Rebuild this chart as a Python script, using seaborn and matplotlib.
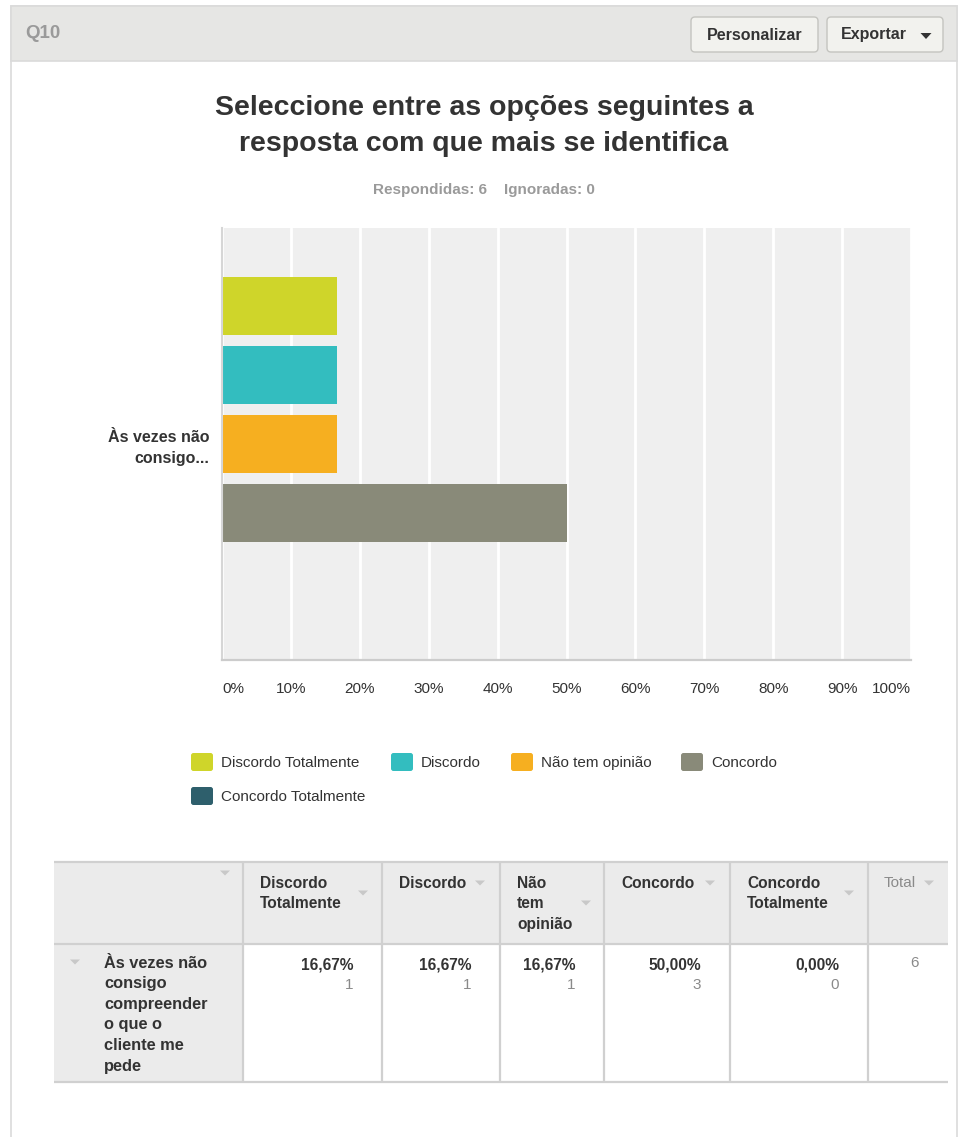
import matplotlib
matplotlib.use("Agg")
import matplotlib.pyplot as plt
from matplotlib.patches import Rectangle, FancyBboxPatch, Polygon
import seaborn as sns
import pandas as pd

# ---- data -------------------------------------------------------------
question_code = "Q10"
title_lines = ["Seleccione entre as opções seguintes a",
               "resposta com que mais se identifica"]
answered = 6
skipped = 0
question_short = "Às vezes não\nconsigo..."
question_lines = ["Às vezes não", "consigo", "compreender",
                  "o que o", "cliente me", "pede"]
responses = ["Discordo Totalmente", "Discordo", "Não tem opinião",
             "Concordo", "Concordo Totalmente"]
header_lines = [["Discordo", "Totalmente"], ["Discordo"],
                ["Não", "tem", "opinião"], ["Concordo"],
                ["Concordo", "Totalmente"]]
counts = [1, 1, 1, 3, 0]
colors = ["#cfd52a", "#33bdbf", "#f6af20", "#898a79", "#2e5f6c"]
x_ticks = [0, 10, 20, 30, 40, 50, 60, 70, 80, 90, 100]

total = sum(counts)
pcts = [c / total * 100 for c in counts]

W, H = 961, 1137
DARK = "#333333"
GRAY = "#8a8a8a"
LINE = "#d0d0d0"
FONT = ["Liberation Sans", "DejaVu Sans"]

sns.set_theme(style="white")
plt.rcParams["font.family"] = FONT

fig = plt.figure(figsize=(W / 100, H / 100), dpi=100)

# ---- page layer in pixel coordinates ---------------------------------
bg = fig.add_axes([0, 0, 1, 1], zorder=0)
bg.set_xlim(0, W)
bg.set_ylim(H, 0)
bg.axis("off")


def sort_arrow(cx, cy, w=10, h=5, color="#c8c8c8"):
    """Small down-pointing triangle used by sortable column headers."""
    bg.add_patch(Polygon([(cx - w / 2, cy - h / 2), (cx + w / 2, cy - h / 2),
                          (cx, cy + h / 2)], closed=True,
                         facecolor=color, edgecolor="none", zorder=3))


# panel and header bar
bg.add_patch(Rectangle((10.5, 6), 946, H, facecolor="white",
                       edgecolor="#dadada", lw=1.2))
bg.add_patch(Rectangle((10.5, 6), 946, 55, facecolor="#e6e6e4",
                       edgecolor="#dadada", lw=1.2))
bg.text(25, 33, question_code, fontsize=13.5, weight="bold", color="#9a9a9a",
        ha="left", va="center")

# buttons
for x0, x1 in [(691, 818), (827, 943)]:
    bg.add_patch(FancyBboxPatch((x0, 17), x1 - x0, 35,
                                boxstyle="round,pad=0,rounding_size=4",
                                facecolor="#f2f2ee", edgecolor="#c4c4c0",
                                lw=1.0))
bg.text(754.5, 35, "Personalizar", fontsize=11.5, weight="bold",
        color=DARK, ha="center", va="center")
bg.text(841, 35, "Exportar", fontsize=11.5, weight="bold",
        color=DARK, ha="left", va="center")
sort_arrow(926, 36, w=11, h=6, color=DARK)

# title and summary line
bg.text(484, 108, title_lines[0], fontsize=20.5, weight="bold",
        color=DARK, ha="center", va="center")
bg.text(484, 144, title_lines[1], fontsize=20.5, weight="bold",
        color=DARK, ha="center", va="center")
bg.text(484, 190, f"Respondidas: {answered}    Ignoradas: {skipped}",
        fontsize=11, weight="bold", color="#9a9a9a",
        ha="center", va="center")

# ---- bar chart --------------------------------------------------------
ax = fig.add_axes([222 / W, 1 - 660 / H, 689 / W, 432 / H], zorder=1)
df = pd.DataFrame({
    "pergunta": [question_short] * len(responses),
    "resposta": responses,
    "pct": pcts,
})
sns.barplot(data=df, x="pct", y="pergunta", hue="resposta",
            hue_order=responses, palette=colors, orient="h",
            width=0.8, gap=0.16, saturation=1, linewidth=0,
            legend=False, ax=ax)
ax.set_facecolor("#efefef")
ax.set_xlim(0, 100)
ax.set_ylim(0.5, -0.5)
ax.set_xlabel("")
ax.set_ylabel("")
ax.set_xticks(x_ticks)
ax.set_xticklabels([f"{t}%" for t in x_ticks], fontsize=11, color=DARK)
ticklabels = ax.get_xticklabels()
ticklabels[0].set_horizontalalignment("left")
ticklabels[-1].set_horizontalalignment("right")
ax.tick_params(axis="x", length=0, pad=16)
ax.tick_params(axis="y", length=0, pad=9)
for lab in ax.get_yticklabels():
    lab.set_fontsize(11.5)
    lab.set_fontweight("bold")
    lab.set_color(DARK)
    lab.set_multialignment("right")
    lab.set_linespacing(1.45)
ax.grid(axis="x", color="white", lw=2)
ax.grid(axis="y", visible=False)
ax.set_axisbelow(True)
for side in ("top", "right"):
    ax.spines[side].set_visible(False)
ax.spines["left"].set_color("#d6d6d6")
ax.spines["left"].set_linewidth(1.5)
ax.spines["bottom"].set_color("#cccccc")
ax.spines["bottom"].set_linewidth(1.6)

# ---- legend -----------------------------------------------------------
legend_pos = [(191, 762), (391, 762), (511, 762), (681, 762), (191, 796)]
for (lx, ly), name, col in zip(legend_pos, responses, colors):
    bg.add_patch(FancyBboxPatch((lx, ly - 9), 22, 18,
                                boxstyle="round,pad=0,rounding_size=2.5",
                                facecolor=col, edgecolor="none"))
    bg.text(lx + 30, ly + 1, name, fontsize=11, color=DARK,
            ha="left", va="center")

# ---- table ------------------------------------------------------------
col_x = [54, 243, 382, 500, 604, 730, 868, 948]
top, mid, bottom = 862, 944, 1082
bg.add_patch(Rectangle((col_x[0], top), col_x[-1] - col_x[0], mid - top,
                       facecolor="#ebebeb", edgecolor="none"))
bg.add_patch(Rectangle((col_x[0], mid), col_x[1] - col_x[0], bottom - mid,
                       facecolor="#ebebeb", edgecolor="none"))
for y in (top, mid, bottom):
    bg.plot([col_x[0], col_x[-1]], [y, y], color=LINE, lw=1.6,
            solid_capstyle="butt")
for x in col_x[1:-1]:
    bg.plot([x, x], [top, bottom], color=LINE, lw=1.6,
            solid_capstyle="butt")

# header row
sort_arrow(225, 873)
header_arrows = [(363, 893), (480, 883), (586, 903), (710, 883), (849, 893)]
for i, lines in enumerate(header_lines):
    x0 = col_x[i + 1] + 17
    for j, line in enumerate(lines):
        bg.text(x0, 883 + 20.5 * j, line, fontsize=11.2, weight="bold",
                color=DARK, ha="left", va="center")
    sort_arrow(*header_arrows[i])
bg.text(col_x[6] + 16, 883, "Total", fontsize=11, color=GRAY,
        ha="left", va="center")
sort_arrow(929, 883)

# body row
sort_arrow(75, 962)
for j, line in enumerate(question_lines):
    bg.text(104, 963 + 20.6 * j, line, fontsize=11.8, weight="bold",
            color=DARK, ha="left", va="center")
for i, (c, p) in enumerate(zip(counts, pcts)):
    xr = col_x[i + 2] - 29
    bg.text(xr, 965, f"{p:.2f}%".replace(".", ","), fontsize=11.2,
            weight="bold", color=DARK, ha="right", va="center")
    bg.text(xr, 985, f"{c}", fontsize=11, color=GRAY,
            ha="right", va="center")
bg.text(col_x[7] - 29, 963, f"{total}", fontsize=11, color=GRAY,
        ha="right", va="center")

fig.savefig("out.png", dpi=100)
